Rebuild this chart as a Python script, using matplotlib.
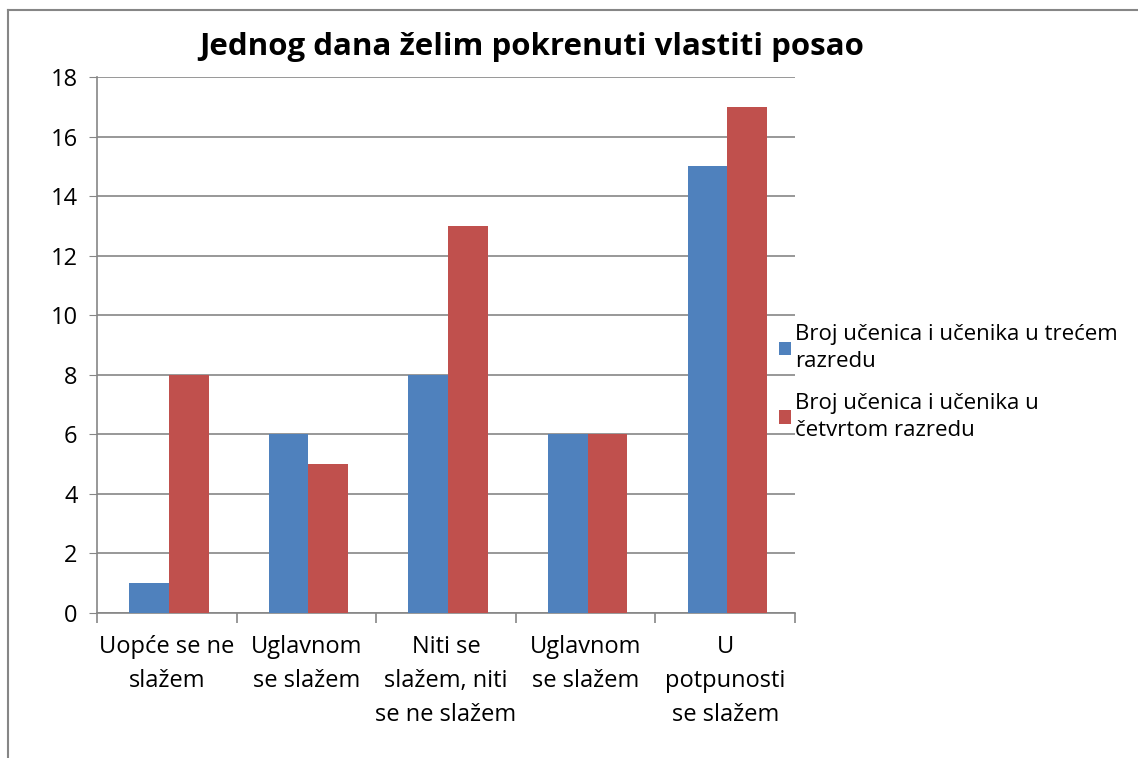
import numpy as np
import matplotlib.pyplot as plt
from matplotlib.lines import Line2D

plt.rcParams['font.family'] = ['Open Sans', 'DejaVu Sans']

kategorije = ["Uopće se ne\nslažem", "Uglavnom\nse slažem", "Niti se\nslažem, niti\nse ne slažem",
              "Uglavnom\nse slažem", "U\npotpunosti\nse slažem"]
treci = [1, 6, 8, 6, 15]
cetvrti = [8, 5, 13, 6, 17]
naziv_treci = "Broj učenica i učenika u trećem\nrazredu"
naziv_cetvrti = "Broj učenica i učenika u\nčetvrtom razredu"

fig = plt.figure(figsize=(11.38, 7.58), dpi=100)
ax = fig.add_axes([0.0852, 0.1913, 0.6134, 0.7071])

x = np.arange(len(kategorije))
w = 0.285
ax.bar(x - w/2 + 0.015, treci, w, color='#4F81BD', label=naziv_treci, zorder=3)
ax.bar(x + w/2 + 0.015, cetvrti, w, color='#C0504D', label=naziv_cetvrti, zorder=3)

ax.set_xlim(-0.5, len(kategorije) - 0.5)
ax.set_ylim(0, 18)
ax.set_yticks(range(0, 19, 2))
ax.tick_params(axis='y', labelsize=17, length=6, color='#868686', pad=8)
ax.yaxis.grid(True, color='#868686', linewidth=1.2, zorder=0)

# oznake kategorija bez crtica, crtice na granicama
ax.set_xticks(x)
ax.set_xticklabels(kategorije, fontsize=17, linespacing=1.55)
ax.tick_params(axis='x', length=0, pad=16)
ax.set_xticks(np.arange(-0.5, len(kategorije)), minor=True)
ax.tick_params(axis='x', which='minor', length=7, color='#868686', width=1.2)

for s in ['top', 'right']:
    ax.spines[s].set_visible(False)
for s in ['left', 'bottom']:
    ax.spines[s].set_color('#868686')
    ax.spines[s].set_linewidth(1.2)

fig.text(0.467, 0.938, "Jednog dana želim pokrenuti vlastiti posao", fontsize=22.5,
         fontweight='bold', ha='center', va='center')

leg = ax.legend(loc='center left', bbox_to_anchor=(0.948, 0.43), frameon=False, fontsize=16,
                handlelength=0.55, handleheight=0.55, handletextpad=0.2, labelspacing=0.95)
for t in leg.get_texts():
    t.set_linespacing(1.35)

# okvir grafikona
fig.add_artist(Line2D([0.007, 0.007], [0.0, 0.987], color='#868686', linewidth=1.5))
fig.add_artist(Line2D([0.007, 1.0], [0.987, 0.987], color='#868686', linewidth=1.5))

fig.savefig('out.png', dpi=100)
